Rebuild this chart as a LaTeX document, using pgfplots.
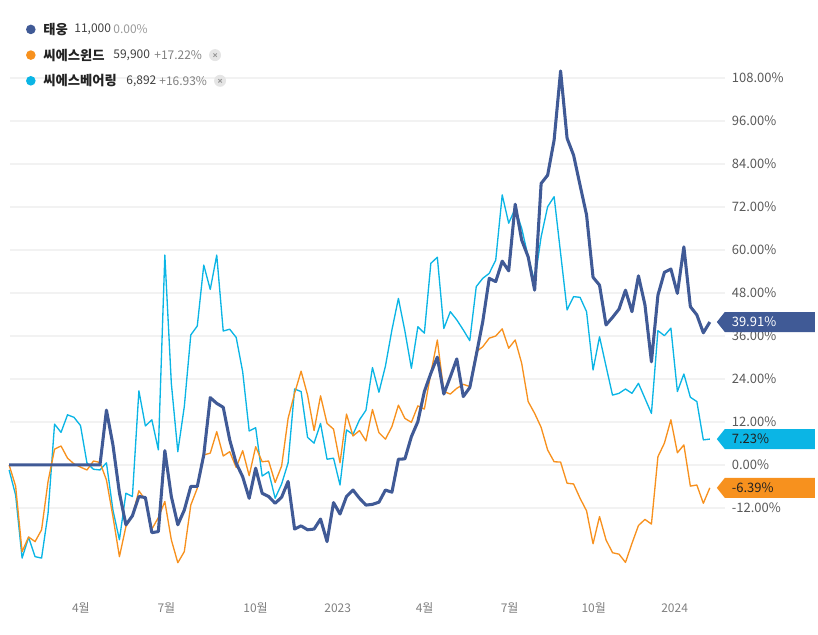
\documentclass[border=0pt]{standalone}
\usepackage{pgfplots}
\pgfplotsset{compat=1.18}
\usepackage{pgfplotstable}
\usepackage{fontspec}
\setmainfont{Noto Sans CJK KR}
\definecolor{ty}{HTML}{405A96}
\definecolor{cw}{HTML}{F7911E}
\definecolor{cb}{HTML}{0BB5E5}
\definecolor{gridc}{HTML}{F2F2F2}
\definecolor{xlab}{HTML}{808080}
\definecolor{ylab}{HTML}{595959}
\definecolor{dark}{HTML}{222222}

% i = week index; ty = 태웅, cw = 씨에스윈드, cb = 씨에스베어링 (% change)
\pgfplotstableread{
i ty cw cb
0 0 0 -1.4
1 0 -5.9 -8.4
2 0 -24.2 -26.0
3 0 -20.1 -20.2
4 0 -21.4 -25.6
5 0 -18.1 -26.0
6 0 -4.6 -13.5
7 0 4.4 11.4
8 0 5.3 9.1
9 0 1.9 14.0
10 0 0.3 13.3
11 0 -0.6 11.0
12 0 -1.4 0.5
13 0 1.1 -1.2
14 0 0.7 -1.4
15 15.3 -4.2 0.6
16 5.6 -14.4 -12.6
17 -7.8 -25.6 -20.9
18 -16.7 -17.2 -7.9
19 -14.2 -14.2 -8.8
20 -8.8 -7.2 20.7
21 -9.1 -9.8 10.9
22 -18.9 -17.9 12.6
23 -18.6 -14.7 4.2
24 4.0 -10.2 58.6
25 -8.8 -20.9 22.8
26 -16.7 -27.3 3.7
27 -12.6 -24.2 16.3
28 -6.0 -11.2 36.3
29 -6.0 -6.5 38.8
30 2.8 2.8 55.8
31 18.8 3.3 49.0
32 17.2 9.3 58.6
33 16.1 2.5 37.4
34 7.0 3.7 37.9
35 0.5 -0.7 35.6
36 -3.3 4.0 26.0
37 -9.3 -3.0 9.5
38 -0.9 5.1 10.4
39 -7.9 0.9 -3.1
40 -8.8 1.1 -1.9
41 -10.7 -4.9 -9.3
42 -9.0 -0.3 -5.3
43 -4.6 13.0 0.6
44 -17.9 20.0 21.2
45 -17.0 26.2 20.5
46 -18.1 19.5 7.7
47 -17.9 9.6 6.1
48 -15.1 19.3 11.6
49 -21.4 11.6 1.6
50 -10.5 10.0 1.9
51 -13.7 0.6 -5.6
52 -8.8 14.2 9.8
53 -7.0 8.1 8.5
54 -9.3 9.6 12.6
55 -11.2 6.7 15.3
56 -11.0 15.5 27.2
57 -10.4 9.0 20.3
58 -7.0 7.2 27.6
59 -7.6 10.7 37.7
60 1.6 16.7 46.5
61 1.7 13.0 37.4
62 7.9 11.9 27.0
63 12.1 16.5 38.6
64 20.5 15.6 36.8
65 25.6 25.6 56.3
66 30.1 34.9 58.0
67 19.8 20.5 38.1
68 24.6 19.8 42.8
69 29.6 21.4 40.5
70 19.1 22.5 37.7
71 21.6 21.9 34.7
72 30.7 31.6 49.8
73 40.0 33.0 52.1
74 52.1 35.4 53.5
75 51.2 36.0 57.2
76 56.9 38.0 75.4
77 54.2 32.6 67.5
78 72.8 34.9 71.6
79 62.8 28.4 66.1
80 58.1 17.7 58.1
81 48.8 14.4 51.2
82 78.6 10.5 63.7
83 80.9 4.2 72.1
84 90.7 0.9 74.9
85 110.0 0.8 59.1
86 91.2 -5.1 43.3
87 86.5 -5.3 47.0
88 78.1 -9.3 46.8
89 69.8 -12.8 42.8
90 52.4 -22.0 26.5
91 50.2 -14.4 35.8
92 39.1 -20.9 27.6
93 41.2 -24.5 19.5
94 43.5 -24.9 20.0
95 48.8 -27.2 21.2
96 42.8 -21.9 20.0
97 52.8 -16.9 22.8
98 44.7 -15.2 18.6
99 28.8 -16.5 14.4
100 47.4 2.3 37.5
101 53.8 6.1 36.1
102 54.7 12.6 38.2
103 47.9 3.4 20.5
104 60.9 5.6 25.4
105 44.2 -5.9 18.9
106 41.9 -5.6 17.7
107 36.9 -10.7 7.0
108 39.91 -6.39 7.23
}\data

\begin{document}
\begin{tikzpicture}[font=\fontsize{9}{11}\selectfont]
\begin{axis}[
  at={(0,0)}, anchor=south west,
  scale only axis, width=613.5pt, height=475.5pt,
  xmin=-1.3867, xmax=124.653, ymin=-47.17, ymax=129.78,
  set layers,
  axis line style={draw=none},
  major tick length=0pt,
  xtick={11.06,24.24,37.98,50.65,64.05,77.15,90.1,102.57},
  xticklabels={4월,7월,10월,2023,4월,7월,10월,2024},
  x tick label style={anchor=center, yshift=19.5pt, inner sep=0pt, text=xlab, font=\fontsize{9}{11}\selectfont},
  ytick={-12,0,12,24,36,48,60,72,84,96,108},
  yticklabels={-12.00\%,0.00\%,12.00\%,24.00\%,36.00\%,48.00\%,60.00\%,72.00\%,84.00\%,96.00\%,108.00\%},
  yticklabel pos=right,
  y tick label style={anchor=west, xshift=-64.7pt, inner sep=0pt, text=ylab, font=\fontsize{9.75}{11}\selectfont},
  clip=false,
  every axis plot/.append style={line join=round},
]
\pgfplotsinvokeforeach{-12,0,12,24,36,48,60,72,84,96,108}{
  \draw[gridc, line width=1pt, on layer=axis grid] (axis cs:0.154,#1) -- (axis cs:110.3,#1);
}
\addplot[cb, line width=1pt, no markers] table[x=i, y=cb] {\data};
\addplot[cw, line width=1pt, no markers] table[x=i, y=cw] {\data};
\addplot[ty, line width=2.3pt, no markers] table[x=i, y=ty] {\data};

% end-value tags
\fill[ty] (axis cs:108,39.91) ++(5.25pt,0pt) -- ++(6pt,7.5pt) -- ++(67.5pt,0pt) -- ++(0pt,-15pt) -- ++(-67.5pt,0pt) -- cycle;
\node[anchor=west, inner sep=0, xshift=16.3pt, text=white, font=\fontsize{9.75}{11}\selectfont] at (axis cs:108,39.91) {39.91\%};
\fill[cb] (axis cs:108,7.23) ++(5.25pt,0pt) -- ++(6pt,7.5pt) -- ++(67.5pt,0pt) -- ++(0pt,-15pt) -- ++(-67.5pt,0pt) -- cycle;
\node[anchor=west, inner sep=0, xshift=16.3pt, text=dark, font=\fontsize{9.75}{11}\selectfont] at (axis cs:108,7.23) {7.23\%};
\fill[cw] (axis cs:108,-6.39) ++(5.25pt,0pt) -- ++(6pt,7.5pt) -- ++(67.5pt,0pt) -- ++(0pt,-15pt) -- ++(-67.5pt,0pt) -- cycle;
\node[anchor=west, inner sep=0, xshift=16.3pt, text=dark, font=\fontsize{9.75}{11}\selectfont] at (axis cs:108,-6.39) {-6.39\%};
\end{axis}

% legend (pixel coordinates from top-left)
\begin{scope}[x=0.75pt, y=-0.75pt, shift={(0pt,475.5pt)}]
  \fill[ty] (30.7,29.3) circle[radius=3.6pt];
  \node[anchor=west, inner sep=0, text=dark, font=\fontsize{10}{12}\selectfont\bfseries] at (43,29.3) {태웅};
  \node[anchor=west, inner sep=0, text=black!75] at (74,29.3) {11,000};
  \node[anchor=west, inner sep=0, text=black!40] at (113,29.3) {0.00\%};

  \fill[cw] (30.7,55) circle[radius=3.6pt];
  \node[anchor=west, inner sep=0, text=dark, font=\fontsize{10}{12}\selectfont\bfseries] at (43,55) {씨에스윈드};
  \node[anchor=west, inner sep=0, text=black!75] at (113,55) {59,900};
  \node[anchor=west, inner sep=0, text=black!50] at (154,55) {+17.22\%};
  \fill[black!10] (215,55) circle[radius=4.5pt];
  \draw[black!40, line width=0.7pt] (213.3,53.3) -- (216.7,56.7) (213.3,56.7) -- (216.7,53.3);

  \fill[cb] (30.7,80.7) circle[radius=3.6pt];
  \node[anchor=west, inner sep=0, text=dark, font=\fontsize{10}{12}\selectfont\bfseries] at (43,80.7) {씨에스베어링};
  \node[anchor=west, inner sep=0, text=black!75] at (126,80.7) {6,892};
  \node[anchor=west, inner sep=0, text=black!50] at (159,80.7) {+16.93\%};
  \fill[black!10] (220,80.7) circle[radius=4.5pt];
  \draw[black!40, line width=0.7pt] (218.3,79) -- (221.7,82.4) (218.3,82.4) -- (221.7,79);
\end{scope}
\end{tikzpicture}
\end{document}
